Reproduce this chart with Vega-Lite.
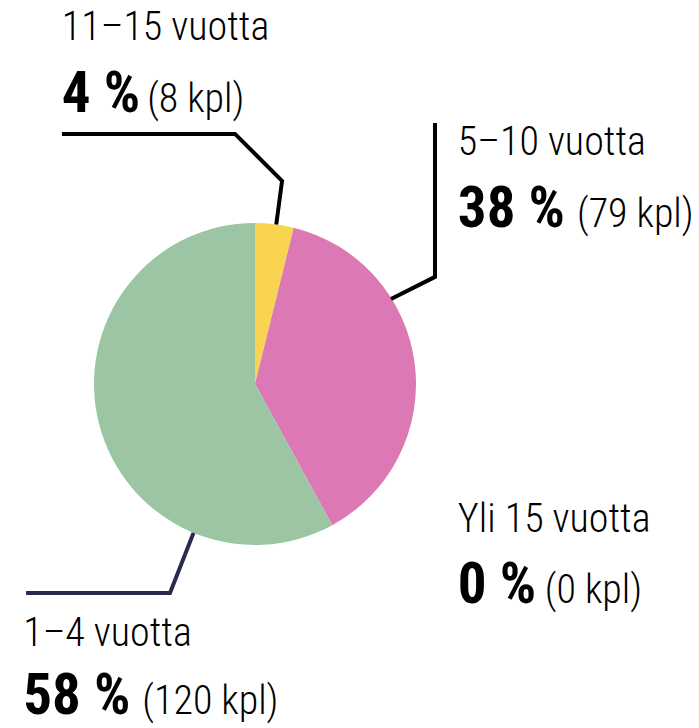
{
  "$schema": "https://vega.github.io/schema/vega-lite/v6.json",
  "width": 699,
  "height": 728,
  "autosize": {"type": "fit", "contains": "padding"},
  "padding": 0,
  "background": "white",
  "config": {"view": {"stroke": null}},
  "datasets": {
    "osuudet": [
      {"luokka": "11–15 vuotta", "kpl": 8, "jarjestys": 1},
      {"luokka": "5–10 vuotta", "kpl": 79, "jarjestys": 2},
      {"luokka": "1–4 vuotta", "kpl": 120, "jarjestys": 3},
      {"luokka": "Yli 15 vuotta", "kpl": 0, "jarjestys": 4}
    ],
    "merkinnat": [
      {"luokka": "11–15 vuotta", "prosentti": "4 %", "maara": "(8 kpl)", "x": -120, "x_maara": -67, "y_nimi": 213.7, "y_arvo": 168.9},
      {"luokka": "5–10 vuotta", "prosentti": "38 %", "maara": "(79 kpl)", "x": 126, "x_maara": 200, "y_nimi": 142.2, "y_arvo": 97.5},
      {"luokka": "Yli 15 vuotta", "prosentti": "0 %", "maara": "(0 kpl)", "x": 126, "x_maara": 180, "y_nimi": -91.9, "y_arvo": -136},
      {"luokka": "1–4 vuotta", "prosentti": "58 %", "maara": "(120 kpl)", "x": -144, "x_maara": -70, "y_nimi": -162.7, "y_arvo": -205}
    ],
    "viivat": [
      {"luokka": "11–15 vuotta", "piste": 1, "x": -119.9, "y": 155.3},
      {"luokka": "11–15 vuotta", "piste": 2, "x": -12.4, "y": 155.3},
      {"luokka": "11–15 vuotta", "piste": 3, "x": 16.8, "y": 126.1},
      {"luokka": "11–15 vuotta", "piste": 4, "x": 13.2, "y": 99},
      {"luokka": "5–10 vuotta", "piste": 1, "x": 111.8, "y": 162.1},
      {"luokka": "5–10 vuotta", "piste": 2, "x": 111.8, "y": 66.5},
      {"luokka": "5–10 vuotta", "piste": 3, "x": 84.5, "y": 52.8},
      {"luokka": "1–4 vuotta", "piste": 1, "x": -142.2, "y": -129.8},
      {"luokka": "1–4 vuotta", "piste": 2, "x": -52.8, "y": -129.8},
      {"luokka": "1–4 vuotta", "piste": 3, "x": -38.2, "y": -92.5}
    ]
  },
  "layer": [
    {
      "data": {"name": "osuudet"},
      "mark": {"type": "arc", "outerRadius": 161},
      "encoding": {
        "x": {"datum": 0, "type": "quantitative", "scale": {"domain": [-158.4, 275.8], "zero": false, "nice": false}, "axis": null},
        "y": {"datum": 0, "type": "quantitative", "scale": {"domain": [-213.7, 238.5], "zero": false, "nice": false}, "axis": null},
        "theta": {"field": "kpl", "type": "quantitative", "stack": true},
        "order": {"field": "jarjestys", "type": "quantitative", "sort": "ascending"},
        "color": {
          "field": "luokka",
          "type": "nominal",
          "scale": {"domain": ["11–15 vuotta", "5–10 vuotta", "1–4 vuotta", "Yli 15 vuotta"], "range": ["#f9d451", "#dc78b3", "#9bc5a3", "#888888"]},
          "legend": null
        }
      }
    },
    {
      "data": {"name": "viivat"},
      "mark": {"type": "line", "strokeWidth": 4, "strokeJoin": "miter", "strokeCap": "butt"},
      "encoding": {
        "x": {"field": "x", "type": "quantitative"},
        "y": {"field": "y", "type": "quantitative"},
        "detail": {"field": "luokka"},
        "order": {"field": "piste", "type": "quantitative"},
        "stroke": {
          "field": "luokka",
          "type": "nominal",
          "scale": {"domain": ["11–15 vuotta", "5–10 vuotta", "1–4 vuotta"], "range": ["#000000", "#000000", "#282a4e"]},
          "legend": null
        }
      }
    },
    {
      "data": {"name": "merkinnat"},
      "mark": {"type": "text", "align": "left", "baseline": "alphabetic", "font": "Roboto Condensed, Liberation Sans Narrow, Roboto", "fontWeight": 300, "fontSize": 40, "color": "#000000"},
      "encoding": {
        "x": {"field": "x", "type": "quantitative"},
        "y": {"field": "y_nimi", "type": "quantitative"},
        "text": {"field": "luokka"}
      }
    },
    {
      "data": {"name": "merkinnat"},
      "mark": {"type": "text", "align": "left", "baseline": "alphabetic", "font": "Roboto Condensed, Liberation Sans Narrow, Roboto", "fontWeight": "bold", "fontSize": 57, "color": "#000000"},
      "encoding": {
        "x": {"field": "x", "type": "quantitative"},
        "y": {"field": "y_arvo", "type": "quantitative"},
        "text": {"field": "prosentti"}
      }
    },
    {
      "data": {"name": "merkinnat"},
      "mark": {"type": "text", "align": "left", "baseline": "alphabetic", "font": "Roboto Condensed, Liberation Sans Narrow, Roboto", "fontWeight": 300, "fontSize": 40, "color": "#000000"},
      "encoding": {
        "x": {"field": "x_maara", "type": "quantitative"},
        "y": {"field": "y_arvo", "type": "quantitative"},
        "text": {"field": "maara"}
      }
    }
  ]
}
